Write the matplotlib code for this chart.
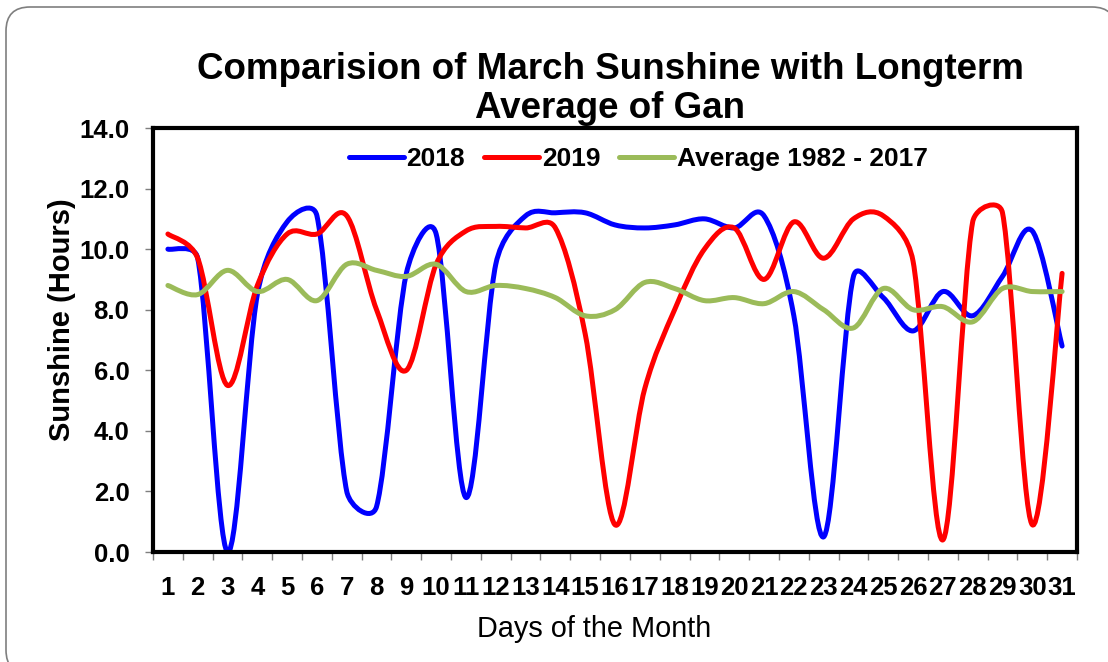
import numpy as np
import matplotlib
matplotlib.use('Agg')
import matplotlib.pyplot as plt
from matplotlib.path import Path
from matplotlib.patches import PathPatch, FancyBboxPatch
from matplotlib.lines import Line2D
from matplotlib.transforms import IdentityTransform

plt.rcParams['font.family'] = ['Liberation Sans', 'DejaVu Sans']

days = list(range(1, 32))
sun_2018 = [10.0, 9.7, 0.0, 8.5, 10.9, 11.1, 2.0, 1.5, 9.2, 10.5,
            1.8, 9.5, 11.1, 11.2, 11.2, 10.8, 10.7, 10.8, 11.0, 10.7,
            11.1, 7.8, 0.5, 9.1, 8.4, 7.3, 8.6, 7.8, 9.1, 10.6, 6.8]
sun_2019 = [10.5, 9.7, 5.5, 8.8, 10.5, 10.5, 11.1, 8.0, 6.0, 9.5,
            10.6, 10.75, 10.7, 10.7, 7.2, 0.9, 5.4, 8.0, 10.0, 10.7,
            9.0, 10.9, 9.7, 11.0, 11.1, 9.6, 0.4, 10.9, 11.2, 0.9, 9.2]
sun_avg = [8.8, 8.5, 9.3, 8.6, 9.0, 8.3, 9.5, 9.3, 9.1, 9.5,
           8.6, 8.8, 8.7, 8.4, 7.8, 8.0, 8.9, 8.7, 8.3, 8.4,
           8.2, 8.6, 8.0, 7.4, 8.7, 8.0, 8.1, 7.6, 8.7, 8.6, 8.6]

series = [('2018', sun_2018, '#0000FF'),
          ('2019', sun_2019, '#FF0000'),
          ('Average 1982 - 2017', sun_avg, '#9BBB59')]


def smooth_path(ax, x, y):
    # excel style smoothed line: bezier through every point, control
    # arms limited to half the segment length (worked out in pixels)
    p = ax.transData.transform(np.column_stack([x, y]).astype(float))
    n = len(p)
    verts = [p[0]]
    codes = [Path.MOVETO]
    for i in range(n - 1):
        p0 = p[i - 1] if i > 0 else p[i]
        p1, p2 = p[i], p[i + 1]
        p3 = p[i + 2] if i + 2 < n else p[i + 1]
        d12 = np.hypot(*(p2 - p1))
        d02 = np.hypot(*(p2 - p0))
        d13 = np.hypot(*(p3 - p1))
        f1 = 1 / 6 if d02 / 6 < d12 / 2 else d12 / (2 * d02)
        f2 = 1 / 6 if d13 / 6 < d12 / 2 else d12 / (2 * d13)
        c1 = p1 + (p2 - p0) * f1
        c2 = p2 - (p3 - p1) * f2
        verts += [c1, c2, p2]
        codes += [Path.CURVE4] * 3
    verts = ax.transData.inverted().transform(np.array(verts))
    return Path(verts, codes)


fig = plt.figure(figsize=(11.08, 6.62), dpi=100)

# rounded outer frame
fig.patches.append(FancyBboxPatch((6, -12), 1110, 662 - 7 + 12,
                                  boxstyle='round,pad=0,rounding_size=24',
                                  transform=IdentityTransform(),
                                  facecolor='white', edgecolor='#7f7f7f',
                                  lw=1.2, zorder=0))

ax = fig.add_axes([153 / 1108, 1 - 552 / 662, 924 / 1108, 424 / 662])
ax.set_zorder(2)
ax.set_xlim(0.5, 31.5)
ax.set_ylim(0, 14)

handles = []
for name, vals, col in series:
    ax.add_patch(PathPatch(smooth_path(ax, days, vals), fill=False,
                           edgecolor=col, lw=3.6, capstyle='round',
                           joinstyle='round'))
    handles.append(Line2D([], [], color=col, lw=3.6, solid_capstyle='round'))

ax.set_yticks(np.arange(0, 15, 2))
ax.set_yticklabels(['%.1f' % v for v in np.arange(0, 15, 2)])
ax.set_xticks(days)
ax.set_xticklabels([str(d) for d in days])
ax.set_xticks(np.arange(0.5, 32, 1), minor=True)

ax.tick_params(axis='y', which='major', direction='out', length=6, width=1,
               color='#7f7f7f', pad=11, labelsize=18.5)
ax.tick_params(axis='x', which='major', length=0, pad=17, labelsize=18.5)
ax.tick_params(axis='x', which='minor', direction='out', length=6, width=1,
               color='#7f7f7f')
for lab in ax.get_xticklabels() + ax.get_yticklabels():
    lab.set_fontweight('bold')

for s in ax.spines.values():
    s.set_linewidth(3)
    s.set_color('black')

ax.set_ylabel('Sunshine (Hours)', fontsize=21, fontweight='bold')
ax.yaxis.set_label_coords(-0.083, 0.548)
ax.set_xlabel('Days of the Month', fontsize=20.8)
ax.xaxis.set_label_coords((594 - 153) / 924, -0.148)

ax.legend(handles, [s[0] for s in series], ncol=3, frameon=False,
          loc='center', bbox_to_anchor=(0.525, 0.927),
          prop={'weight': 'bold', 'size': 19},
          handlelength=2.1, handletextpad=0.1, columnspacing=0.7)

fig.text(610 / 1108, 1 - 79 / 662, 'Comparision of March Sunshine with Longterm',
         ha='center', va='baseline', fontsize=26.5, fontweight='bold')
fig.text(610 / 1108, 1 - 118 / 662, 'Average of Gan',
         ha='center', va='baseline', fontsize=26.5, fontweight='bold')

fig.savefig('out.png', dpi=100)
